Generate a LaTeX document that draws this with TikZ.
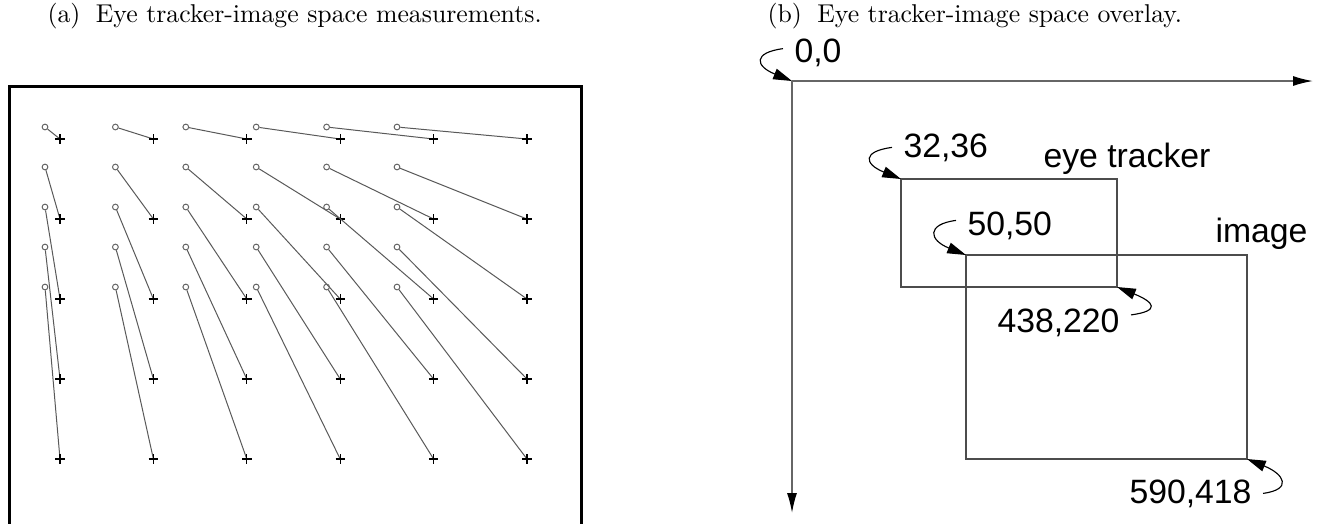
\documentclass[tikz,border=0pt]{standalone}
\usepackage{fontspec}
\newfontfamily\labelsans{Liberation Sans}
\usetikzlibrary{arrows.meta,calc}

\begin{document}
\begin{tikzpicture}[
  x=0.4pt, y=-0.4pt,
  caption/.style={anchor=base west, inner sep=0pt, font=\fontsize{10.3}{12}\selectfont},
  frame/.style={line width=1.2pt, black},
  meas/.style={line width=0.4pt, black!65},
  ring/.style={circle, draw=black!60, line width=0.4pt, minimum size=2.3pt,
               inner sep=0pt},
  target/.style={line width=0.45pt, black},
  axis/.style={line width=0.6pt, black!60,
               -{Latex[length=8pt, width=4pt, color=black]}},
  region/.style={line width=0.45pt, black!70},
  corner/.style={font=\labelsans\fontsize{13.5}{16}\selectfont, inner sep=0pt,
                 inner xsep=4.4pt},
  callout/.style={line width=0.45pt, black, -{Triangle[length=7.5pt, width=4.4pt]}},
]
\useasboundingbox (0,0) rectangle (1317,523);

%% Captions
\node[caption] (capA) at (47,22) {(a)\hspace{0.6em}Eye tracker-image space measurements.};
\node[caption] (capB) at (767,22) {(b)\hspace{0.6em}Eye tracker-image space overlay.};

%% Panel (a): measured points against target crosses
\draw[frame] (9,530) -- (9,86) -- (581,86) -- (581,530);
\foreach \r in {0,...,4}{
  \foreach \c in {0,...,5}{
    \node[ring] (m-\r-\c) at ({45+70.4*\c},{127+40*\r}) {};
    \coordinate (t-\r-\c) at ({60+93.4*\c},{139+80*\r});
    \draw[meas] (m-\r-\c) -- (t-\r-\c);
    \draw[target] (t-\r-\c) +(-4.7,0) -- +(4.7,0) +(0,-4.7) -- +(0,4.7);
  }
}

%% Panel (b): axes and the two spaces
\coordinate (origin) at (792,81);
\coordinate (xend) at (1313,81);
\coordinate (yend) at (792,513);
\coordinate (et-nw) at (901,179);
\coordinate (et-se) at (1117,287);
\coordinate (im-nw) at (966,255);
\coordinate (im-se) at (1247,459);

\draw[axis] (origin) -- (xend);
\draw[axis] (origin) -- (yend);
\draw[region] (et-nw) rectangle (et-se);
\draw[region] (im-nw) rectangle (im-se);

%% Corner labels
\node[corner, anchor=base west] (c00) at ([shift={(-9,-19)}]origin) {0,0};
\node[corner, anchor=base west] (c3236) at ([shift={(-9,-22)}]et-nw) {32,36};
\node[corner, anchor=base west] (c5050) at ([shift={(-10,-20)}]im-nw) {50,50};
\node[corner, anchor=base east] (c438) at ([shift={(14,45)}]et-se) {438,220};
\node[corner, anchor=base east] (c590) at ([shift={(16,44)}]im-se) {590,418};
\node[corner, anchor=base west] (lblet) at ([shift={(131,-12)}]et-nw) {eye tracker};
\node[corner, anchor=base west] (lblim) at ([shift={(238,-13)}]im-nw) {image};

%% Callouts to the corners
\draw[callout] ([yshift=1.5pt]c00.west) .. controls +(-30,4) and +(-37,-15) .. (origin);
\draw[callout] (c3236.west) .. controls +(-30,4) and +(-37,-15) .. (et-nw);
\draw[callout] ([yshift=2pt]c5050.west) .. controls +(-30,4) and +(-37,-15) .. (im-nw);
\draw[callout] ([yshift=3pt]c438.east) .. controls +(30,-4) and +(37,15) .. (et-se);
\draw[callout] (c590.east) .. controls +(30,-4) and +(37,15) .. (im-se);

\end{tikzpicture}
\end{document}
